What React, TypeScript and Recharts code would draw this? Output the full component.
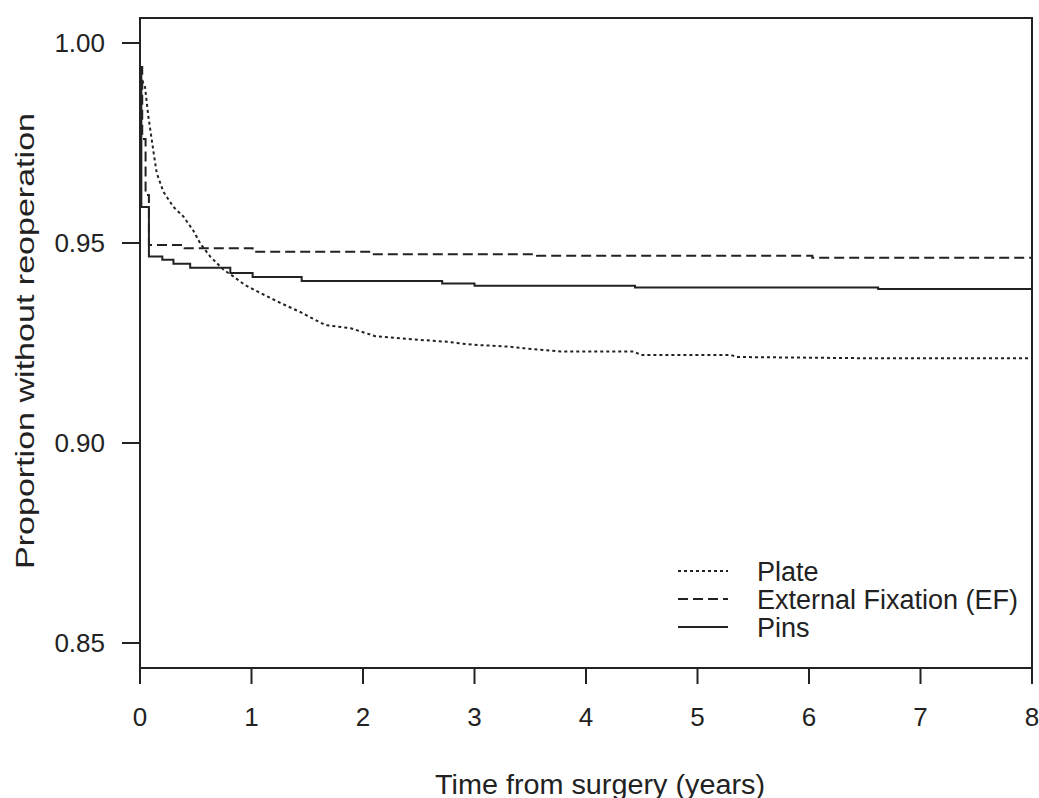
import React from 'react';
import { LineChart, Line, XAxis, YAxis, ReferenceArea } from 'recharts';

// Plate: dense KM curve traced as a polyline (time in years, proportion)
const plateTimes = [0, 0.045, 0.075, 0.12, 0.15, 0.21, 0.30, 0.39, 0.48, 0.54, 0.63, 0.75, 0.84, 0.94, 1.08, 1.26, 1.44, 1.66, 1.89, 2.11, 2.45, 2.76, 2.87, 3.03, 3.30, 3.44, 3.59, 3.77, 4.43, 4.49, 5.3, 5.35, 6.5, 8];
const plateSurv = [0.992, 0.989, 0.9816, 0.973, 0.9675, 0.9628, 0.959, 0.9566, 0.953, 0.9499, 0.9466, 0.9433, 0.9416, 0.9395, 0.9375, 0.935, 0.9327, 0.9295, 0.9287, 0.9267, 0.9259, 0.9253, 0.9249, 0.9245, 0.9241, 0.9237, 0.9233, 0.9229, 0.9229, 0.922, 0.922, 0.9215, 0.9212, 0.9212];

// External Fixation: step function (event times, survival after event)
const efTimes = [0, 0.02, 0.05, 0.08, 0.40, 1.01, 2.07, 3.56, 6.03];
const efSurv = [0.994, 0.976, 0.962, 0.9495, 0.9487, 0.9478, 0.9472, 0.9468, 0.9463];

// Pins: step function
const pinsTimes = [0, 0.012, 0.08, 0.20, 0.30, 0.45, 0.81, 1.01, 1.45, 2.71, 3.0, 4.44, 6.62];
const pinsSurv = [0.994, 0.959, 0.9466, 0.9458, 0.9448, 0.9438, 0.9425, 0.9415, 0.9405, 0.9399, 0.9393, 0.9389, 0.9385];

const xTicks = [0, 1, 2, 3, 4, 5, 6, 7, 8];
const yTicks = [0.85, 0.9, 0.95, 1.0];
const xMax = 8;

const legendItems = [
  { name: 'Plate', dash: '3 3' },
  { name: 'External Fixation (EF)', dash: '10 5' },
  { name: 'Pins', dash: undefined as string | undefined },
];

const FONT = '"Liberation Sans", Arial, Helvetica, sans-serif';
const INK = '#222';

const polyline = (ts: number[], ss: number[]) => ts.map((t, i) => ({ t, v: ss[i] }));
const steps = (ts: number[], ss: number[], end: number) => {
  const out: { t: number; v: number }[] = [];
  ts.forEach((t, i) => {
    out.push({ t, v: ss[i] });
    out.push({ t: i + 1 < ts.length ? ts[i + 1] : end, v: ss[i] });
  });
  return out;
};

const plateData = polyline(plateTimes, plateSurv);
const efData = steps(efTimes, efSurv, xMax);
const pinsData = steps(pinsTimes, pinsSurv, xMax);

const LegendBox = () => (
  <svg width={360} height={100} style={{ display: 'block' }}>
    {legendItems.map((it, i) => {
      const y = 14 + i * 28;
      return (
        <g key={it.name}>
          <line x1={3} x2={53} y1={y} y2={y} stroke={INK} strokeWidth={2} strokeDasharray={it.dash} />
          <text x={82} y={y} dy="0.36em" fontSize={27} fontFamily={FONT} fill={INK}>
            {it.name}
          </text>
        </g>
      );
    })}
  </svg>
);

const YTitle = () => (
  <text
    x={34}
    y={341}
    transform="rotate(-90 34 341)"
    textAnchor="middle"
    fontSize={26}
    fontFamily={FONT}
    fill={INK}
    textLength={456}
    lengthAdjust="spacingAndGlyphs"
  >
    Proportion without reoperation
  </text>
);

const XTitle = () => (
  <text
    x={600}
    y={794}
    textAnchor="middle"
    fontSize={27}
    fontFamily={FONT}
    fill={INK}
    textLength={330}
    lengthAdjust="spacingAndGlyphs"
  >
    Time from surgery (years)
  </text>
);

export default function App() {
  return (
    <div style={{ position: 'absolute', left: 0, top: 0, width: 1039, height: 798 }}>
      <LineChart width={1039} height={798} margin={{ top: 18, right: 7, bottom: 0, left: 0 }}>
        <XAxis
          dataKey="t"
          type="number"
          domain={[0, xMax]}
          ticks={xTicks}
          allowDataOverflow
          height={130}
          tickSize={16}
          tickMargin={24}
          axisLine={{ stroke: INK, strokeWidth: 2 }}
          tickLine={{ stroke: INK, strokeWidth: 2 }}
          tick={{ fill: INK, fontSize: 26, fontFamily: FONT }}
          label={<XTitle />}
        />
        <YAxis
          type="number"
          domain={[0.84375, 1.00625]}
          ticks={yTicks}
          allowDataOverflow
          width={140}
          tickSize={18}
          tickMargin={17}
          tickFormatter={(v: number) => v.toFixed(2)}
          axisLine={{ stroke: INK, strokeWidth: 2 }}
          tickLine={{ stroke: INK, strokeWidth: 2 }}
          tick={{ fill: INK, fontSize: 26, fontFamily: FONT }}
          label={<YTitle />}
        />
        <ReferenceArea x1={0} x2={xMax} y1={0.84375} y2={1.00625} fill="none" stroke={INK} strokeWidth={2} ifOverflow="visible" />
        <Line data={plateData} dataKey="v" name="Plate" type="linear" stroke={INK} strokeWidth={2} strokeDasharray="3 3" dot={false} isAnimationActive={false} />
        <Line data={efData} dataKey="v" name="External Fixation (EF)" type="linear" stroke={INK} strokeWidth={2} strokeDasharray="10 5" dot={false} isAnimationActive={false} />
        <Line data={pinsData} dataKey="v" name="Pins" type="linear" stroke={INK} strokeWidth={2} dot={false} isAnimationActive={false} />
      </LineChart>
      <div style={{ position: 'absolute', left: 675, top: 557 }}>
        <LegendBox />
      </div>
    </div>
  );
}
